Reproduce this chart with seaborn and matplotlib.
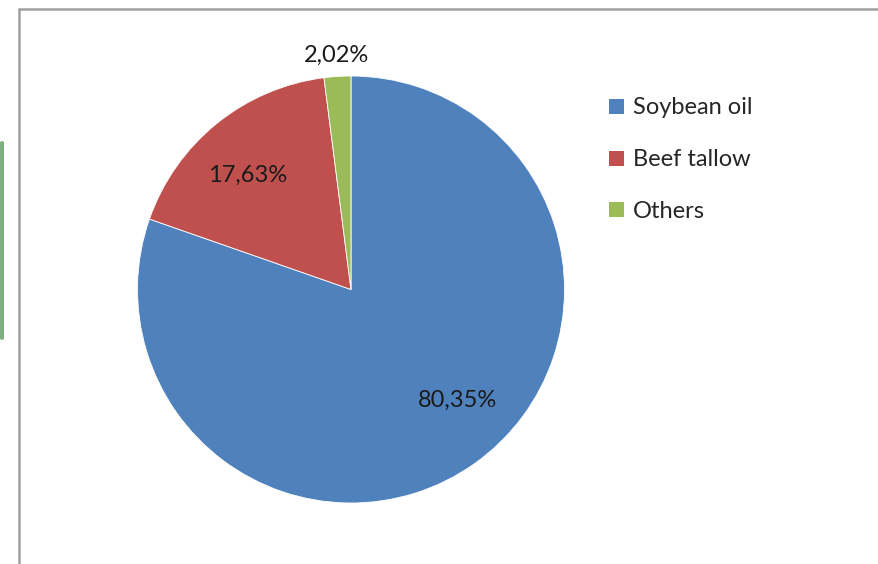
import matplotlib
matplotlib.use("Agg")
import matplotlib.pyplot as plt
import seaborn as sns
import numpy as np
from matplotlib.patches import FancyBboxPatch
from matplotlib.lines import Line2D

sns.set_theme(style="white")
plt.rcParams["font.family"] = ["Lato", "DejaVu Sans"]

# Share of feedstock
categories = ["Soybean oil", "Beef tallow", "Others"]
shares = [80.35, 17.63, 2.02]
colors = ["#4F81BD", "#C0504D", "#9BBB59"]

# Label placement for each slice: (angle offset from slice middle in degrees, radius)
label_place = [(8.4, 0.72), (3.2, 0.72), (0.0, 1.10)]

W, H = 879, 564
fig = plt.figure(figsize=(W / 100, H / 100), dpi=100)
fig.patch.set_facecolor("white")

cx, cy, r = 351, 289.5, 213.5
ax = fig.add_axes([(cx - r) / W, (H - cy - r) / H, 2 * r / W, 2 * r / H])

wedges, texts, autotexts = ax.pie(
    shares,
    colors=colors,
    startangle=90,
    counterclock=False,
    radius=1.0,
    autopct=lambda p: f"{p:.2f}%".replace(".", ","),
    pctdistance=0.72,
    wedgeprops=dict(edgecolor="white", linewidth=0.6),
    textprops=dict(fontsize=17, color="#1a1a1a"),
)
for w, t, (off, rad) in zip(wedges, autotexts, label_place):
    mid = np.deg2rad((w.theta1 + w.theta2) / 2 + off)
    t.set_position((rad * np.cos(mid), rad * np.sin(mid)))
    t.set_ha("center")
    t.set_va("center")

ax.set_xlim(-1, 1)
ax.set_ylim(-1, 1)
ax.set_aspect("equal")
ax.axis("off")

leg = fig.legend(
    wedges,
    categories,
    loc="upper left",
    bbox_to_anchor=(600 / W, 1 - 88 / H),
    frameon=False,
    fontsize=17,
    handlelength=0.6,
    handleheight=0.6,
    handletextpad=0.4,
    labelspacing=1.31,
    borderaxespad=0,
)
for h in leg.legend_handles:
    h.set_edgecolor("none")

# Chart area frame (left and top edges)
fig.add_artist(Line2D([19 / W, 19 / W], [0, 1 - 9 / H], color="#a0a0a0", lw=1.8,
                      transform=fig.transFigure))
fig.add_artist(Line2D([19 / W, 1.0], [1 - 9 / H, 1 - 9 / H], color="#a0a0a0", lw=1.8,
                      transform=fig.transFigure))

# Green marker bar at the left edge
fig.add_artist(FancyBboxPatch((0, 1 - 340 / H), 4 / W, 199 / H,
                              boxstyle="round,pad=0,rounding_size=0.003",
                              facecolor="#7DB07F", edgecolor="none",
                              transform=fig.transFigure))

fig.savefig("out.png", dpi=100, facecolor="white")
